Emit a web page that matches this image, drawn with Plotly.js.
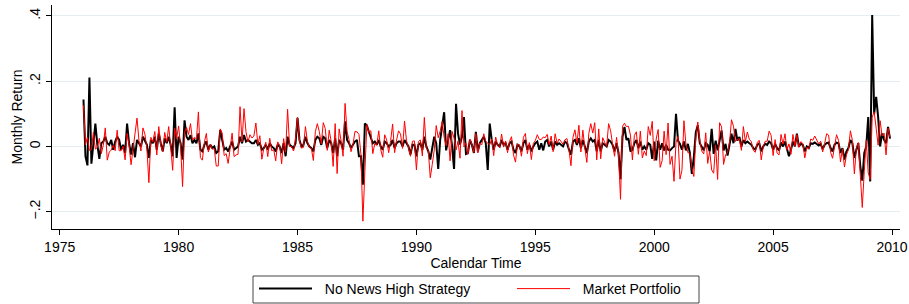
<!DOCTYPE html>
<html><head><meta charset="utf-8">
<script src="https://cdn.plot.ly/plotly-3.0.1.min.js"></script>
<style>html,body{margin:0;padding:0;background:#fff}#chart{width:909px;height:304px}</style>
</head><body><div id="chart"></div>
<script>
const startYear = 1976;
const seriesNames = ['No News High Strategy', 'Market Portfolio'];
const xTickVals = [1975, 1980, 1985, 1990, 1995, 2000, 2005, 2010];
const yTickVals = [-0.2, 0, 0.2, 0.4];
const yTickText = ['\u2212.2', '0', '.2', '.4'];

// Monthly returns, Jan 1976 - Dec 2009 (one row per year)
const noNewsHigh = [
  0.144,-0.030,-0.058,0.211,-0.053,0.020,0.070,0.005,-0.038,0.010,0.015,0.030,
  0.010,0.005,0.020,-0.010,0.015,0.030,0.020,-0.010,0.005,-0.020,0.070,0.010,
  -0.025,0.010,-0.033,0.020,0.010,0.000,0.030,0.015,0.005,-0.035,0.020,0.010,
  0.030,-0.010,0.040,0.010,-0.015,0.025,0.010,0.030,0.005,-0.030,0.120,-0.035,
  0.030,0.010,-0.040,0.080,0.030,0.020,0.035,0.010,0.020,0.010,0.040,-0.010,
  -0.015,0.005,0.015,-0.010,0.005,-0.005,0.000,-0.020,-0.015,0.050,0.020,-0.010,
  -0.005,-0.015,0.000,0.015,-0.010,-0.005,0.000,0.030,0.010,0.035,0.015,0.020,
  0.015,0.010,0.010,0.020,0.005,0.010,-0.010,-0.005,0.005,-0.010,0.010,0.000,
  -0.005,-0.015,0.005,0.000,-0.020,0.010,-0.030,0.030,0.005,0.000,-0.005,0.010,
  0.088,0.020,0.000,0.005,0.030,0.010,0.000,-0.005,-0.015,0.020,0.030,0.025,
  0.005,0.030,0.025,-0.005,0.020,0.010,-0.020,0.025,-0.030,0.020,0.010,-0.010,
  0.077,0.020,0.010,-0.005,0.005,0.015,0.020,-0.030,-0.030,-0.117,0.070,0.065,
  0.045,0.030,0.010,0.015,0.005,0.020,0.000,-0.010,0.015,0.010,0.000,0.005,
  0.020,-0.005,0.010,0.015,0.015,0.000,0.020,0.010,0.000,-0.025,0.005,0.005,
  -0.030,0.005,0.010,-0.010,0.030,0.000,-0.015,-0.040,0.000,0.030,0.010,-0.069,
  0.020,0.060,0.105,-0.012,0.020,0.050,0.000,-0.069,0.131,0.040,0.006,0.030,
  0.090,-0.023,-0.020,0.020,0.005,-0.020,0.045,-0.015,0.010,0.020,0.030,0.010,
  -0.072,0.070,0.020,-0.010,0.015,0.005,0.000,0.020,0.005,0.010,-0.010,0.010,
  0.015,-0.010,-0.020,0.005,0.000,-0.015,0.010,0.020,-0.010,0.005,-0.015,0.000,
  0.010,0.015,-0.010,0.010,-0.012,0.015,0.020,0.000,0.015,-0.010,0.015,0.005,
  0.010,0.005,0.000,0.015,0.010,-0.010,-0.025,0.015,0.020,0.005,0.025,-0.005,
  0.020,0.000,-0.020,0.015,0.025,0.015,0.020,-0.015,0.020,-0.015,0.010,0.005,
  0.000,0.020,0.015,0.005,-0.015,0.010,-0.020,-0.100,0.030,0.060,0.020,0.025,
  -0.015,-0.010,0.010,0.020,-0.005,0.015,-0.010,0.000,-0.010,0.010,0.005,-0.038,
  0.015,-0.043,0.018,-0.010,0.010,-0.012,0.005,-0.010,-0.012,-0.005,0.000,0.100,
  0.018,0.008,-0.010,0.015,-0.012,0.008,-0.020,-0.084,-0.033,0.044,0.065,0.010,
  0.000,-0.012,0.010,0.005,-0.015,0.054,-0.023,0.018,-0.012,0.020,0.049,-0.012,
  0.008,-0.028,0.005,0.039,0.010,0.054,0.018,0.029,0.000,0.020,0.010,0.015,
  0.010,0.005,-0.005,-0.010,0.005,0.010,-0.015,0.000,0.008,0.005,0.015,0.010,
  -0.010,0.008,-0.005,-0.012,0.012,0.000,0.015,-0.005,-0.030,-0.010,0.015,0.000,
  0.039,0.000,0.008,0.005,-0.015,0.000,-0.005,0.010,0.008,0.012,0.008,0.003,
  0.008,-0.008,0.005,0.010,0.012,-0.005,-0.015,0.005,0.012,0.010,-0.020,-0.005,
  -0.040,-0.015,-0.005,0.020,0.010,-0.035,-0.010,0.010,-0.060,-0.105,-0.020,0.000,
  0.090,-0.107,0.403,0.100,0.152,0.090,0.000,0.040,0.020,0.010,0.060,0.024
];

const marketPortfolio = [
  0.126,0.005,0.029,-0.012,-0.010,0.043,-0.008,-0.003,0.025,-0.022,0.004,0.057,
  -0.042,-0.017,-0.011,0.004,-0.013,0.050,-0.013,-0.013,0.001,-0.041,0.040,0.005,
  -0.056,-0.013,0.030,0.087,0.018,-0.014,0.057,0.038,-0.006,-0.111,0.028,0.014,
  0.046,-0.026,0.061,0.004,-0.016,0.043,0.013,0.061,0.001,-0.073,0.056,0.024,
  0.063,0.000,-0.123,0.044,0.058,0.037,0.070,0.019,0.028,0.023,0.106,-0.034,
  -0.042,0.013,0.040,-0.017,0.006,-0.008,-0.007,-0.060,-0.060,0.054,0.041,-0.028,
  -0.022,-0.052,-0.006,0.041,-0.031,-0.026,-0.024,0.122,0.014,0.116,0.045,0.014,
  0.036,0.026,0.032,0.072,0.006,0.033,-0.039,-0.006,0.013,-0.031,0.025,-0.013,
  -0.010,-0.044,0.014,0.004,-0.053,0.024,-0.018,0.114,0.000,0.000,-0.014,0.023,
  0.089,0.017,-0.005,-0.003,0.061,0.016,-0.003,-0.006,-0.043,0.045,0.070,0.046,
  0.008,0.073,0.055,-0.012,0.050,0.015,-0.061,0.070,-0.083,0.054,0.018,-0.030,
  0.132,0.046,0.021,-0.016,0.006,0.046,0.045,0.037,-0.023,-0.229,-0.076,0.067,
  0.043,0.048,-0.022,0.009,0.004,0.048,-0.010,-0.033,0.036,0.020,-0.019,0.018,
  0.069,-0.019,0.020,0.048,0.038,-0.006,0.078,0.017,-0.002,-0.030,0.016,0.017,
  -0.072,0.015,0.020,-0.029,0.089,-0.005,-0.013,-0.096,-0.055,-0.011,0.064,0.027,
  0.047,0.077,0.028,0.002,0.039,-0.044,0.046,0.026,-0.011,0.017,-0.036,0.110,
  -0.001,0.011,-0.024,0.022,0.006,-0.018,0.040,-0.020,0.011,0.005,0.039,0.016,
  0.010,0.005,0.023,-0.028,0.029,0.003,-0.002,0.038,-0.002,0.017,-0.019,0.016,
  0.030,-0.026,-0.048,0.007,0.006,-0.030,0.028,0.040,-0.022,0.012,-0.040,0.009,
  0.018,0.036,0.022,0.021,0.029,0.027,0.037,0.005,0.032,-0.016,0.039,0.010,
  0.023,0.013,0.007,0.021,0.024,-0.011,-0.059,0.028,0.051,0.010,0.065,-0.017,
  0.050,-0.005,-0.049,0.040,0.070,0.041,0.073,-0.041,0.054,-0.038,0.027,0.013,
  0.000,0.070,0.048,0.007,-0.030,0.028,-0.027,-0.162,0.062,0.071,0.061,0.062,
  0.035,-0.041,0.034,0.045,-0.024,0.047,-0.035,-0.014,-0.028,0.061,0.034,0.077,
  -0.044,0.023,0.052,-0.064,-0.044,0.047,-0.025,0.072,-0.055,-0.030,-0.107,0.012,
  0.031,-0.100,-0.073,0.079,0.007,-0.019,-0.021,-0.065,-0.092,0.025,0.075,0.016,
  -0.014,-0.023,0.042,-0.052,-0.014,-0.072,-0.082,0.005,-0.101,0.073,0.060,-0.055,
  -0.026,-0.019,0.011,0.082,0.062,0.015,0.022,0.024,-0.012,0.061,0.015,0.044,
  0.022,0.015,-0.012,-0.018,0.012,0.019,-0.041,-0.001,0.016,0.016,0.047,0.034,
  -0.028,0.021,-0.020,-0.026,0.037,0.007,0.039,-0.010,0.008,-0.024,0.037,0.001,
  0.036,-0.003,0.015,0.009,-0.035,-0.002,-0.008,0.023,0.019,0.032,0.020,0.008,
  0.016,-0.017,0.009,0.039,0.035,-0.018,-0.036,0.007,0.036,0.019,-0.047,-0.007,
  -0.063,-0.026,-0.010,0.048,0.019,-0.084,-0.007,0.012,-0.092,-0.187,-0.076,0.019,
  -0.081,-0.101,0.090,0.106,0.056,0.004,0.079,0.032,0.041,-0.026,0.056,0.028
];

const months = noNewsHigh.map((_, i) => startYear + i / 12);
const pad = '\u00a0\u00a0';

const traces = [
  {x: months, y: noNewsHigh, name: pad + seriesNames[0], type: 'scatter', mode: 'lines',
   line: {color: '#000000', width: 2}, legendwidth: 190},
  {x: months, y: marketPortfolio, name: pad + seriesNames[1], type: 'scatter', mode: 'lines',
   line: {color: '#ff0000', width: 1}, legendwidth: 118}
];

// plot area: x 52..900, y 5..229 (px)
const pw = 848, ph = 224, pb = 229, pl = 52;
const font = 'Liberation Sans, Arial, Helvetica, sans-serif';
const layout = {
  width: 909, height: 304,
  margin: {l: 52, r: 9, t: 5, b: 75, autoexpand: false},
  paper_bgcolor: '#ffffff', plot_bgcolor: '#ffffff',
  font: {family: font, size: 14, color: '#000'},
  showlegend: true,
  xaxis: {
    range: [1974.676, 2010.336], tickmode: 'array', tickvals: xTickVals,
    ticktext: xTickVals.map(String),
    showgrid: false, zeroline: false, showline: true, linecolor: '#000', linewidth: 1,
    ticks: 'outside', ticklen: 5, tickcolor: '#000', tickfont: {size: 14},
    title: {text: 'Calendar Time', font: {size: 14}, standoff: 0},
    automargin: false
  },
  yaxis: {
    range: [-0.253, 0.4337], tickmode: 'array', tickvals: yTickVals, ticktext: yTickText,
    tickangle: -90, showgrid: true, gridcolor: '#e4edf0', gridwidth: 1,
    zeroline: false, showline: true, linecolor: '#000', linewidth: 1,
    ticks: 'outside', ticklen: 5, tickcolor: '#000', tickfont: {size: 14},
    title: {text: 'Monthly Return', font: {size: 14}, standoff: 1},
    automargin: false
  },
  legend: {
    orientation: 'h', x: 0.5, xanchor: 'center', y: -(273 - pb) / ph, yanchor: 'top',
    borderwidth: 0, font: {size: 14}, itemwidth: 53, bgcolor: 'rgba(0,0,0,0)'
  },
  shapes: [{
    type: 'rect', xref: 'paper', yref: 'paper',
    x0: (253 - pl) / pw, x1: (699 - pl) / pw,
    y0: -(303 - pb) / ph, y1: -(276 - pb) / ph,
    line: {color: '#444', width: 1}, fillcolor: 'rgba(0,0,0,0)', layer: 'below'
  }]
};

Plotly.newPlot('chart', traces, layout, {displayModeBar: false, staticPlot: true});
</script>
</body></html>
